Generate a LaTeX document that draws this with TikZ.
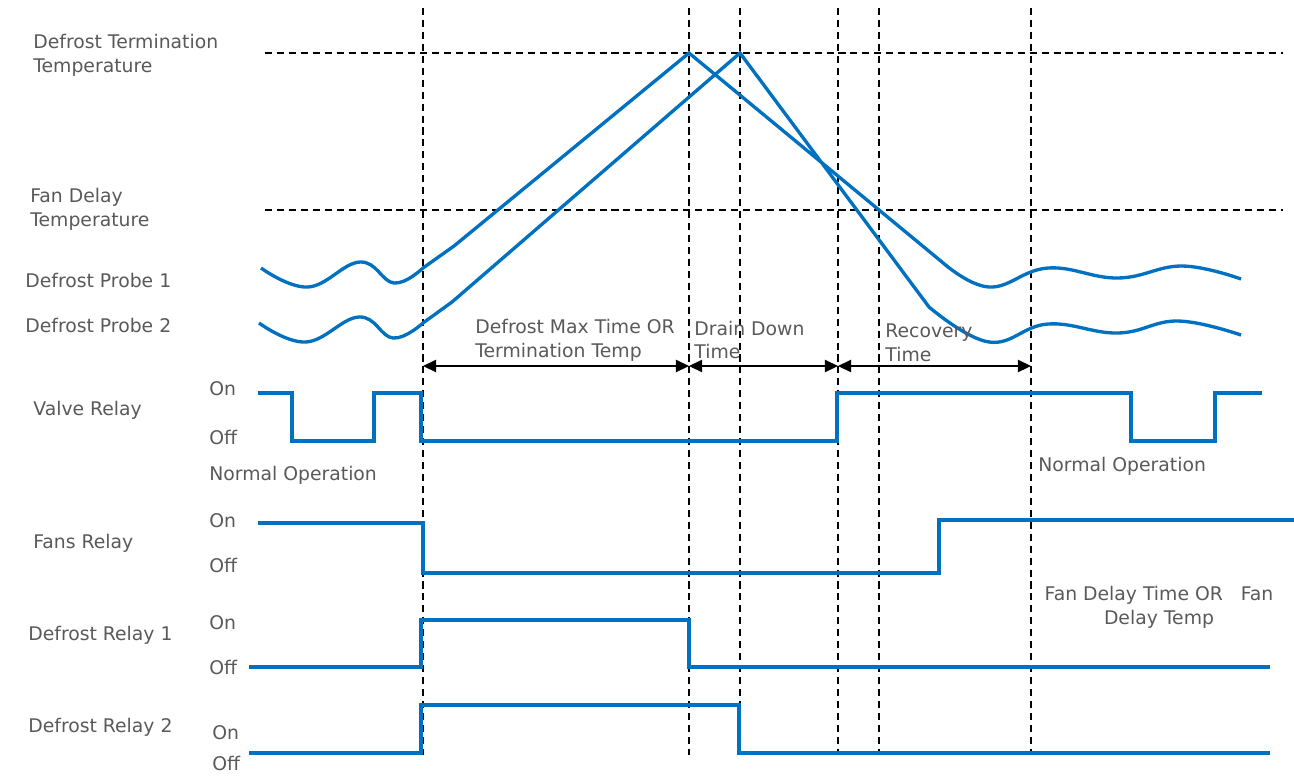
\documentclass[tikz,border=0pt]{standalone}
\usepackage{fontspec}
\setmainfont{DejaVu Sans}
\usetikzlibrary{arrows.meta}

\begin{document}
\begin{tikzpicture}[x=0.02cm, y=-0.02cm, >={Triangle[length=7.5pt,width=7pt]},
    lbl/.style={anchor=west, inner sep=0pt, text=labelGray, align=left,
        font=\fontsize{10.7}{13.6}\selectfont},
    signal/.style={draw=probeBlue, line width=1.9pt},
    guide/.style={black, line width=1pt, dash pattern=on 4pt off 2.8pt},
    span/.style={<->, black, line width=0.9pt}]
    % --- CONFIGURATION ---
    \definecolor{probeBlue}{RGB}{0, 112, 192}   % Bleu signal
    \definecolor{labelGray}{RGB}{89, 89, 89}    % Gris texte

    \useasboundingbox (0,0) rectangle (1294,775);

    % Seuils de température
    \draw[guide] (265,53) -- (1283,53);
    \draw[guide] (265,210) -- (1283,210);

    % Instants de commutation
    \foreach \t in {423,689,740,838,879,1031}
        \draw[guide] (\t,8) -- (\t,755);

    % --- SONDES DE DÉGIVRAGE ---
    \draw[signal] plot[smooth, tension=0.7] coordinates {(261,268) (308,287) (360,262) (394,283) (423,268)}
        -- (454,246) -- (689,53) -- (942,262)
        plot[smooth, tension=0.7] coordinates {(942,262) (989,287) (1048,268) (1118,278) (1182,266) (1241,279)};
    \draw[signal] plot[smooth, tension=0.7] coordinates {(259,323) (306,342) (359,317) (393,338) (423,323)}
        -- (452,302) -- (740,53) -- (929,307)
        plot[smooth, tension=0.7] coordinates {(929,307) (989,342) (1048,324) (1118,333) (1178,321) (1241,335)};

    % --- RELAIS ---
    \draw[signal] (258,393) -- (292,393) -- (292,441) -- (374,441) -- (374,393) -- (421,393) -- (421,441)
        -- (837,441) -- (837,393) -- (1131,393) -- (1131,441) -- (1215,441) -- (1215,393) -- (1262,393);
    \draw[signal] (258,523) -- (423,523) -- (423,573) -- (939,573) -- (939,520) -- (1294,520);
    \draw[signal] (249,667) -- (421,667) -- (421,620) -- (689,620) -- (689,667) -- (1270,667);
    \draw[signal] (249,753) -- (421,753) -- (421,705) -- (739,705) -- (739,753) -- (1270,753);

    % Durées
    \coordinate (defrostStart) at (423,366);
    \coordinate (drainStart) at (689,366);
    \coordinate (recoveryStart) at (838,366);
    \coordinate (recoveryEnd) at (1031,366);
    \draw[span] (defrostStart) -- (drainStart);
    \draw[span] (drainStart) -- (recoveryStart);
    \draw[span] (recoveryStart) -- (recoveryEnd);

    % --- ÉTIQUETTES ---
    \node[lbl] (termTempLabel) at (33,55) {Defrost Termination\\Temperature};
    \node[lbl] (fanTempLabel) at (30,209) {Fan Delay\\Temperature};
    \node[lbl] (probeOneLabel) at (25,280) {Defrost Probe 1};
    \node[lbl] (probeTwoLabel) at (25,325) {Defrost Probe 2};
    \node[lbl] (valveLabel) at (33,410) {Valve Relay};
    \node[lbl] (fansLabel) at (33,543) {Fans Relay};
    \node[lbl] (relayOneLabel) at (28,635) {Defrost Relay 1};
    \node[lbl] (relayTwoLabel) at (28,727) {Defrost Relay 2};

    \foreach \name/\xs/\yon/\yoff in {valve/209/389/437, fans/209/521/565, relayOne/209/623/667, relayTwo/212/733/763} {
        \node[lbl] (\name On) at (\xs,\yon) {On};
        \node[lbl] (\name Off) at (\xs,\yoff) {Off};
    }

    \node[lbl] (normalLeft) at (209,475) {Normal Operation};
    \node[lbl] (normalRight) at (1038,466) {Normal Operation};
    \node[lbl] (maxTimeLabel) at (475,340) {Defrost Max Time OR\\Termination Temp};
    \node[lbl] (drainLabel) at (694,340) {Drain Down\\Time};
    \node[lbl] (recoveryLabel) at (885,343) {Recovery\\Time};
    \node[lbl, anchor=center, align=center] (fanDelayLabel) at (1159,607) {Fan Delay Time OR\ \ \ Fan\\Delay Temp};
\end{tikzpicture}
\end{document}
